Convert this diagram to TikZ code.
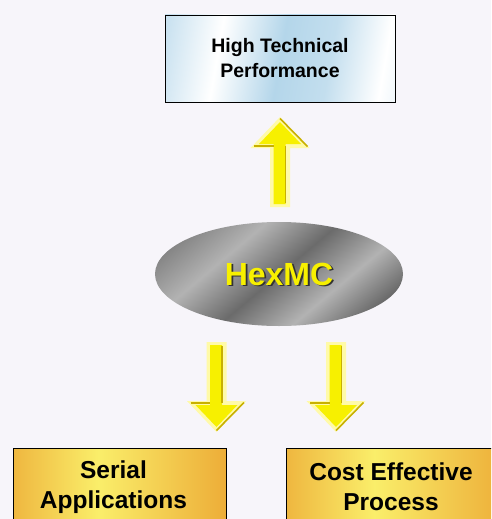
\documentclass[tikz,border=0pt]{standalone}
\usepackage{fontspec}
\setmainfont{Liberation Sans}
\usetikzlibrary{shapes.geometric}
\definecolor{bg}{HTML}{F7F5FA}
\definecolor{lb}{HTML}{B4D6EA}
\definecolor{orE}{HTML}{E2780F}
\definecolor{orM}{HTML}{FAEE6A}
\definecolor{yel}{HTML}{F7F000}
\definecolor{pyel}{HTML}{FFFAA8}
\definecolor{dyel}{HTML}{C8B000}
\pgfdeclarehorizontalshading{blueS}{100bp}{color(0bp)=(lb); color(22bp)=(lb!70!white); color(35bp)=(white); color(50bp)=(lb); color(62bp)=(lb!80!white); color(75bp)=(white); color(88bp)=(lb!60!white); color(100bp)=(lb)}
\pgfdeclarehorizontalshading{grayS}{100bp}{color(0bp)=(black!80); color(22bp)=(black!50); color(36bp)=(black!30); color(50bp)=(black!58); color(64bp)=(black!30); color(80bp)=(black!68); color(100bp)=(black!90)}
\pgfdeclarehorizontalshading{orS}{100bp}{color(0bp)=(orE); color(15bp)=(orE!70!orM); color(45bp)=(orM); color(75bp)=(orE!55!orM); color(100bp)=(orE)}
\tikzset{
  lbl/.style={font=\bfseries\fontsize{19.5}{25}\selectfont, align=center},
  lblbig/.style={font=\bfseries\fontsize{24.5}{30}\selectfont, align=center},
  topbox/.style={draw=black, line width=0.9pt, shading=blueS, shading angle=-10, minimum width=230pt, minimum height=87pt, inner sep=0pt},
  botbox/.style={draw=black, line width=0.9pt, shading=orS, minimum height=78pt, inner sep=0pt},
  hexell/.style={ellipse, shading=grayS, shading angle=-50, minimum width=248pt, minimum height=104pt, inner sep=0pt},
  arrowouter/.style={fill=pyel},
  arrowinner/.style={fill=yel},
  arrowdark/.style={draw=dyel, line width=1.6pt}
}
\newcommand{\yellowarrow}{%
  \fill[arrowouter] (-10,0) -- (10,0) -- (10,59) -- (29.5,59) -- (0,90) -- (-29.5,59) -- (-10,59) -- cycle;
  \fill[arrowinner] (-6.5,3) -- (5.5,3) -- (5.5,63) -- (21,63) -- (0,85) -- (-21,63) -- (-6.5,63) -- cycle;
  \draw[arrowdark] (-26,61) -- (-6.5,61);
  \draw[arrowdark] (5.5,4) -- (5.5,61);
  \draw[arrowdark] (27.5,60.5) -- (0,88.5);
}
\begin{document}
\begin{tikzpicture}[x=1pt,y=-1pt]
\fill[bg] (0,0) rectangle (491,519);
\useasboundingbox (0,0) rectangle (491,519);
\clip (0,0) rectangle (491,519);

\node[topbox, lbl] (perf) at (280,58.5) {High Technical\\Performance};

\node[hexell] (hex) at (279,274) {};
\node[font=\bfseries\fontsize{32}{36}\selectfont, text=black!80] at ([shift={(1.8,1.8)}]hex.center) {HexMC};
\node[font=\bfseries\fontsize{32}{36}\selectfont, text=yel] (hexlbl) at (hex.center) {HexMC};

\node[botbox, minimum width=213pt] (serial) at (119.5,487) {};
\node[lblbig] (seriallbl) at (113.5,487) {Serial\\Applications};
\node[botbox, minimum width=220pt, anchor=west] (cost) at (286,487) {};
\node[lblbig] (costlbl) at (391,487) {Cost Effective\\Process};

\coordinate (upbase) at (280,207);
\coordinate (dl) at (216.5,342);
\coordinate (dr) at (336,342);

\begin{scope}[shift={(upbase)}, yscale=-1]\yellowarrow\end{scope}
\begin{scope}[shift={(dl)}]\yellowarrow\end{scope}
\begin{scope}[shift={(dr)}]\yellowarrow\end{scope}
\end{tikzpicture}
\end{document}
